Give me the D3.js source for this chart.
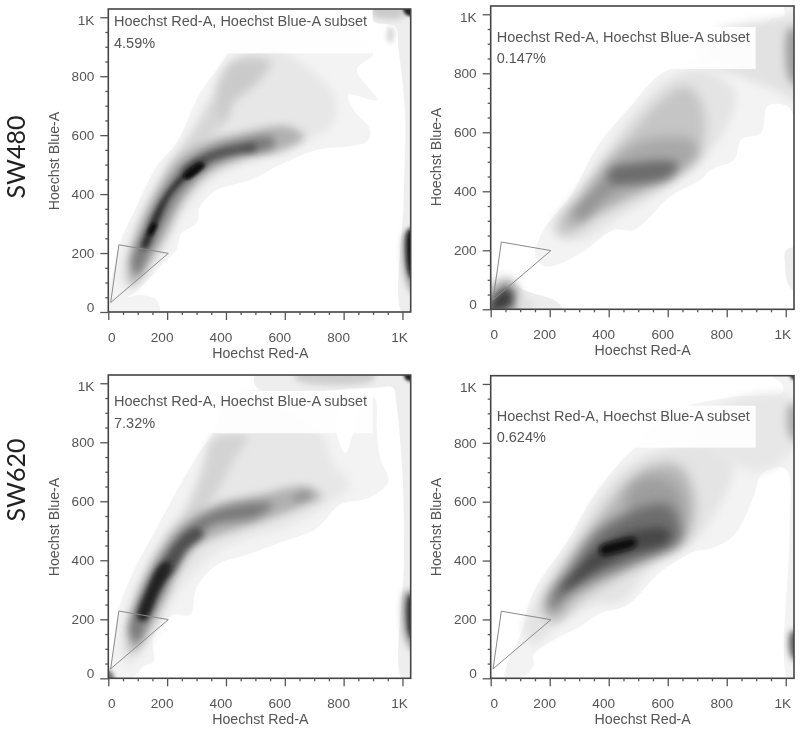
<!DOCTYPE html>
<html><head><meta charset="utf-8">
<script src="https://cdn.jsdelivr.net/npm/d3@7/dist/d3.min.js"></script>
<style>html,body{margin:0;padding:0;background:#fff}svg{display:block}</style>
</head><body><svg id="c" width="800" height="731"></svg>
<script>
// axis ticks
const majorTicks=[0,200,400,600,800,1000];
const minorTicks=[50,100,150,250,300,350,450,500,550,650,700,750,850,900,950];
const tickNames={0:"0",200:"200",400:"400",600:"600",800:"800",1000:"1K"};
const gateVertices=[[8,32],[36,228],[204,199]];
const xTitle="Hoechst Red-A", yTitle="Hoechst Blue-A", subsetName="Hoechst Red-A, Hoechst Blue-A subset";
const subsetPercents=["4.59%","0.147%","7.32%","0.624%"];
const rowNames=["SW480","SW620"];
// density contours: [density level 0-100, blur, outline in axis units]
const p1Contours=[
[5,.7,[[11,35],[40,233],[85,335],[164,494],[232,573],[312,743],[403,878],[425,992],[765,992],[901,878],[845,822],[913,720],[816,737],[833,686],[890,618],[879,578],[709,550],[595,505],[482,448],[369,414],[312,358],[300,301],[249,267],[232,211],[187,165],[85,63]]],
[5,.7,[[0,52],[60,50],[108,58],[164,41],[173,0],[0,0]]],
[7,.7,[[899,1040],[1040,1040],[1040,0],[998,0],[1004,380],[1009,675],[987,890],[975,969],[913,980],[899,992]]],
[10,4,[[40,131],[85,267],[176,448],[266,561],[346,731],[414,850],[540,900],[765,743],[765,641],[686,584],[607,550],[471,505],[369,460],[300,392],[244,324],[198,233],[142,143],[68,75]]],
[17,5,[[198,471],[300,629],[369,720],[403,675],[334,573],[255,494]]],
[22,5,[[369,686],[369,754],[425,850],[550,850],[516,788],[425,709],[391,641]]],
[32,4,[[68,143],[100,278],[165,414],[235,515],[330,575],[448,605],[607,630],[665,595],[607,555],[471,525],[357,480],[295,430],[245,360],[190,250],[140,170],[80,90]]],
[55,4,[[80,165],[118,267],[180,395],[250,492],[334,548],[448,582],[560,592],[560,560],[448,535],[357,505],[305,465],[240,395],[185,295],[140,205],[100,125]]],
[72,3,[[250,480],[334,535],[448,565],[500,570],[500,548],[440,540],[350,515],[300,480],[260,455]]],
[88,2.5,[[113,216],[136,290],[181,380],[244,460],[312,512],[330,500],[266,454],[210,392],[164,290],[130,216]]],
[100,1.5,[[135,265],[150,300],[165,300],[148,262]]],
[100,1.5,[[255,460],[310,505],[325,498],[270,450]]],
[40,3,[[1009,267],[1040,267],[1040,60],[1012,109]]],
[100,2,[[1020,280],[1040,280],[1040,110],[1022,130]]],
[22,3,[[899,1040],[1000,1040],[1000,1000],[899,1005]]],
[90,1.5,[[1003,1040],[1040,1040],[1040,1005],[1010,1010]]],
[14,2,[[955,970],[975,950],[960,910],[945,930]]]
];
const p2Contours=[
[5,.7,[[151,179],[179,269],[270,383],[361,552],[474,688],[565,790],[689,858],[720,930],[902,938],[950,983],[995,994],[995,1040],[1040,1040],[1040,632],[1007,688],[939,689],[916,598],[848,575],[825,507],[746,473],[712,439],[610,383],[485,269],[417,269],[304,190],[190,145]]],
[7,.7,[[1001,201],[1040,207],[1040,54],[1007,88],[998,145]]],
[8,.7,[[0,54],[54,100],[111,66],[224,26],[241,0],[0,0]]],
[11,4,[[213,269],[304,405],[395,541],[485,666],[599,779],[712,813],[825,745],[825,677],[757,552],[667,462],[553,383],[440,315],[304,235]]],
[12,5,[[760,940],[1000,990],[1040,1000],[1040,700],[990,730],[870,780],[700,850]]],
[40,4,[[1010,950],[1040,950],[1040,760],[1012,780]]],
[24,6,[[224,281],[304,383],[383,485],[474,598],[553,688],[632,750],[680,750],[720,680],[720,564],[667,496],[576,428],[440,360],[327,303],[247,247]]],
[36,6,[[259,303],[327,395],[417,510],[531,575],[690,570],[700,520],[633,463],[508,407],[372,339],[281,282]]],
[44,4,[[285,320],[350,400],[430,475],[445,440],[380,375],[310,310]]],
[60,5,[[405,473],[485,496],[633,495],[610,450],[508,425],[405,430]]],
[24,4,[[-20,70],[60,110],[100,60],[90,-20],[-20,-20]]],
[80,4,[[9,43],[54,77],[77,54],[71,9],[0,-10],[-10,0]]],
[14,3,[[95,35],[130,30],[150,12],[110,5]]]
];
const p3Contours=[
[5,.7,[[11,45],[34,226],[85,362],[164,509],[232,634],[312,770],[357,832],[400,950],[776,950],[776,831],[805,764],[833,831],[860,950],[905,950],[913,843],[924,747],[952,668],[885,611],[788,589],[709,509],[595,464],[471,419],[369,385],[300,306],[278,215],[221,215],[153,147],[153,57],[119,40],[85,4],[0,0]]],
[7,.7,[[505,1040],[1040,1040],[1040,0],[998,0],[1005,400],[1000,700],[978,940],[968,985],[900,985],[505,985]]],
[10,4,[[40,136],[85,272],[176,464],[266,589],[346,792],[425,951],[718,838],[765,725],[822,657],[709,566],[595,509],[471,475],[357,419],[266,328],[198,226],[119,91],[62,45]]],
[18,5,[[198,464],[266,566],[323,702],[357,809],[471,821],[425,736],[357,611],[300,521],[232,475]]],
[32,4,[[68,136],[100,283],[178,440],[260,530],[369,590],[516,622],[675,650],[725,617],[652,580],[516,530],[380,485],[305,450],[252,385],[195,275],[140,165],[80,85]]],
[55,4,[[72,158],[110,275],[180,405],[250,497],[357,565],[500,595],[560,590],[505,548],[357,520],[305,482],[240,410],[190,300],[130,185],[100,120]]],
[42,3,[[629,617],[680,634],[686,611],[629,600]]],
[72,3,[[170,350],[245,475],[300,510],[325,490],[265,435],[210,350]]],
[90,2.5,[[100,204],[130,300],[172,380],[205,395],[212,370],[172,290],[125,195]]],
[40,3,[[1009,294],[1040,294],[1040,90],[1009,136]]],
[85,2,[[1022,280],[1040,280],[1040,130],[1022,150]]],
[20,3,[[640,1040],[900,1040],[900,1010],[640,1010]]],
[90,1.5,[[1005,1040],[1040,1040],[1040,1008],[1012,1012]]],
[60,2,[[-10,30],[10,22],[20,-10],[-10,-10]]]
];
const p4Contours=[
[5,.7,[[49,0],[54,45],[105,158],[145,294],[259,464],[351,623],[440,736],[485,781],[600,900],[825,956],[984,968],[990,996],[939,1040],[1040,1040],[1040,0],[1007,0],[1013,498],[1007,702],[978,719],[916,691],[893,623],[825,487],[746,441],[689,430],[576,362],[463,249],[372,221],[293,170],[224,136],[145,79],[145,45],[111,6]]],
[11,4,[[111,170],[168,283],[281,464],[372,623],[451,713],[553,770],[769,792],[825,724],[769,577],[689,464],[553,385],[440,260],[349,249],[224,181],[145,113]]],
[10,5,[[689,826],[780,928],[1018,956],[1040,800],[916,702],[769,758]]],
[35,4,[[1013,928],[1040,928],[1040,804],[1013,826]]],
[70,3,[[1018,158],[1040,158],[1040,57],[1018,79]]],
[85,1.5,[[1015,1040],[1040,1040],[1040,1015],[1020,1018]]],
[30,6,[[179,238],[247,374],[349,521],[463,668],[553,724],[640,720],[690,611],[667,487],[553,419],[417,340],[304,272],[213,192]]],
[40,6,[[463,623],[519,680],[620,660],[650,540],[485,521]]],
[60,6,[[202,272],[270,372],[361,497],[474,566],[599,590],[650,498],[633,454],[485,392],[360,341],[259,284],[202,226]]],
[76,4,[[235,294],[300,375],[372,445],[463,495],[600,505],[600,465],[463,422],[360,372],[275,315]]],
[100,2.5,[[370,445],[430,468],[490,475],[490,450],[420,425],[375,420]]]
];
const panelContours=[p1Contours,p2Contours,p3Contours,p4Contours];
// layout
const panels=[
 {l:108.3,r:410.7,t:9,b:312,tx:114,ty:[26,47.7],box:[8,53.3,372.7],yc:161},
 {l:490.7,r:794,t:6,b:309.3,tx:496.7,ty:[41.7,63.3],box:[27,69,755.7],yc:157},
 {l:108.3,r:410.7,t:375,b:678.3,tx:114,ty:[406,427.7],box:[391,433.3,372.7],yc:527},
 {l:490.7,r:794,t:375.7,b:678.3,tx:496.7,ty:[420.7,442.3],box:[405.7,447.7,755.7],yc:527}
];
const DOMAIN=1028;
const svg=d3.select("#c");
const defs=svg.append("defs");
const fid=s=>"b"+String(s).replace(".","_");
Array.from(new Set(panelContours.flat().map(d=>d[1]))).forEach(s=>defs.append("filter").attr("id",fid(s))
  .attr("filterUnits","userSpaceOnUse").attr("x",0).attr("y",0).attr("width",800).attr("height",731)
  .append("feGaussianBlur").attr("stdDeviation",s));
defs.append("filter").attr("id","soft").attr("filterUnits","userSpaceOnUse").attr("x",0).attr("y",0).attr("width",800).attr("height",731)
  .append("feGaussianBlur").attr("stdDeviation",.35);
const shade=d3.scaleLinear().domain([0,100]).range(["#ffffff","#0c0c0c"]);
const FONT="'Liberation Sans',Arial,sans-serif", INK="#555";
panels.forEach((p,i)=>{
  const x=d3.scaleLinear().domain([0,DOMAIN]).range([p.l,p.r]);
  const y=d3.scaleLinear().domain([0,DOMAIN]).range([p.b,p.t]);
  const g=svg.append("g");
  defs.append("clipPath").attr("id","clip"+i).append("rect").attr("x",p.l).attr("y",p.t).attr("width",p.r-p.l).attr("height",p.b-p.t);
  const den=g.append("g").attr("clip-path",`url(#clip${i})`);
  const ln=d3.line().x(d=>x(d[0])).y(d=>y(d[1])).curve(d3.curveCatmullRomClosed.alpha(.5));
  den.selectAll("g").data(panelContours[i]).join("g")
    .attr("filter",d=>`url(#${fid(d[1])})`)
    .append("path").attr("d",d=>ln(d[2])).attr("fill",d=>shade(d[0]));
  g.append("rect").attr("x",p.l).attr("y",p.box[0]).attr("width",p.box[2]-p.l).attr("height",p.box[1]-p.box[0]).attr("fill","#fff").attr("opacity",.9);
  g.append("path").attr("d",d3.line().x(d=>x(d[0])).y(d=>y(d[1]))(gateVertices)+"Z").attr("fill","none").attr("stroke","#8a8a8a").attr("stroke-width",1);
  g.append("rect").attr("x",p.l).attr("y",p.t).attr("width",p.r-p.l).attr("height",p.b-p.t).attr("fill","none").attr("stroke","#444").attr("stroke-width",1.6);
  const ax=(gen,tr,vals,len)=>{const a=g.append("g").attr("transform",tr).call(gen.tickValues(vals).tickSize(len).tickFormat(""));a.select(".domain").remove();a.selectAll("line").attr("stroke","#555").attr("stroke-width",1.3);};
  ax(d3.axisBottom(x),`translate(0,${p.b})`,majorTicks,8);
  ax(d3.axisBottom(x),`translate(0,${p.b})`,minorTicks,3);
  ax(d3.axisLeft(y),`translate(${p.l},0)`,majorTicks,8);
  ax(d3.axisLeft(y),`translate(${p.l},0)`,minorTicks,3);
  const txt=g.append("g").attr("font-family",FONT).attr("font-size",13.6).attr("fill",INK).attr("filter","url(#soft)");
  majorTicks.forEach(v=>{
    const dx=v===0?3.6:v===1000?-3:-5;
    txt.append("text").attr("x",x(v)+dx).attr("y",p.b+30).attr("text-anchor","middle").text(tickNames[v]);
    const dy=v===0?-5.3:v===1000?3.4:0;
    txt.append("text").attr("x",p.l-14).attr("y",y(v)+dy+4.8).attr("text-anchor","end").text(tickNames[v]);
  });
  txt.append("text").attr("x",x(0)+152).attr("y",p.b+46).attr("font-size",14.2).attr("text-anchor","middle").text(xTitle);
  txt.append("text").attr("transform",`translate(${p.l-49.3},${p.yc}) rotate(-90)`).attr("font-size",14.2).attr("text-anchor","middle").text(yTitle);
  txt.append("text").attr("x",p.tx).attr("y",p.ty[0]).attr("font-size",14.5).text(subsetName);
  txt.append("text").attr("x",p.tx).attr("y",p.ty[1]).attr("font-size",14.5).text(subsetPercents[i]);
});
const rows=svg.append("g").attr("font-family","Lato,'Open Sans',sans-serif").attr("font-size",25).attr("fill","#222").attr("filter","url(#soft)");
rows.append("text").attr("transform","translate(25,157) rotate(-90)").attr("text-anchor","middle").text(rowNames[0]);
rows.append("text").attr("transform","translate(25,480) rotate(-90)").attr("text-anchor","middle").text(rowNames[1]);
</script></body></html>
